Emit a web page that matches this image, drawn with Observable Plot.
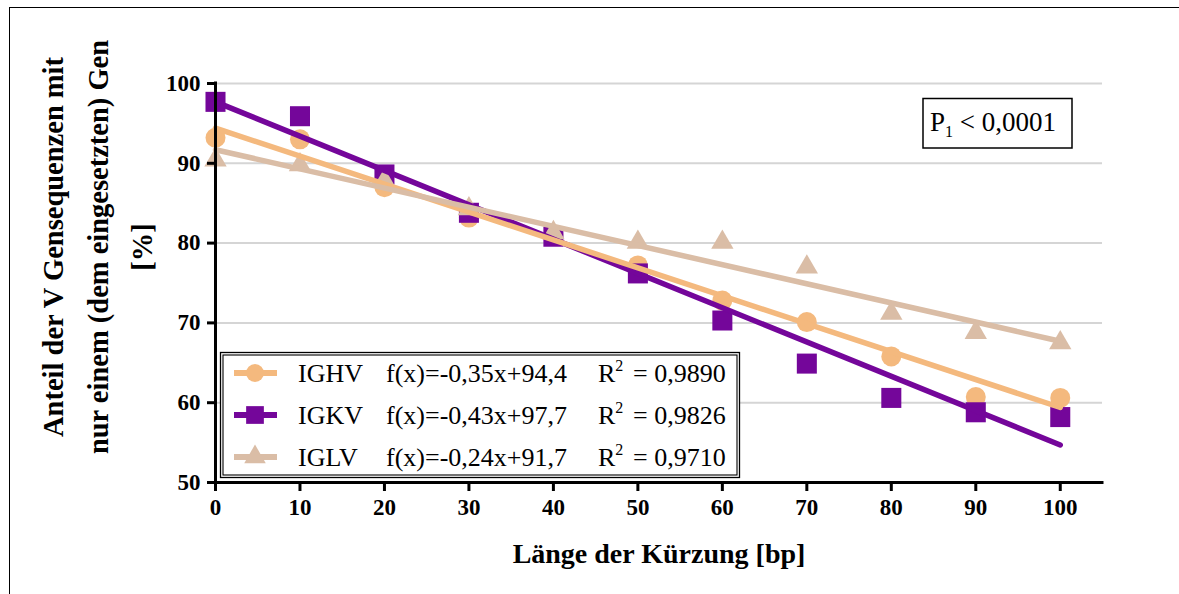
<!DOCTYPE html>
<html>
<head>
<meta charset="utf-8">
<script src="https://cdn.jsdelivr.net/npm/d3@7"></script>
<script src="https://cdn.jsdelivr.net/npm/@observablehq/plot@0.6"></script>
<style>
  body { margin: 0; background: #fff; }
  #frame { position: relative; width: 1179px; height: 594px; overflow: hidden; }
  #frame::before {
    content: ""; position: absolute; left: 9px; top: 7px; right: -10px; bottom: -10px;
    border-top: 1.5px solid #000; border-left: 1.5px solid #000; pointer-events: none;
  }
  #frame svg { position: absolute; left: 0; top: 0; }
</style>
</head>
<body>
<div id="frame"></div>
<script>
// Truncation length (bp) and share of V sequences matched to the inserted gene (%)
const lengths = [0, 10, 20, 30, 40, 50, 60, 70, 80, 90, 100];
const series = ["IGHV", "IGKV", "IGLV"];
const ighv = [93.2, 93.0, 87.0, 83.2, 81.0, 77.2, 72.8, 70.1, 65.8, 60.7, 60.6];
const igkv = [97.7, 95.9, 88.6, 83.8, 80.8, 76.2, 70.3, 64.9, 60.6, 58.8, 58.2];
const iglv = [90.4, 89.8, 87.8, 84.3, 81.3, 80.1, 80.1, 77.0, 71.2, 68.8, 67.5];

// Linear fits f(x) = slope * x + intercept and their coefficients of determination
const slopes = [-0.35, -0.43, -0.24];
const intercepts = [94.4, 97.7, 91.7];
const rSquared = [0.9890, 0.9826, 0.9710];
const pValue = "0,0001";

const colors = ["#f4b97e", "#74069a", "#dabda6"];
const yTicks = [50, 60, 70, 80, 90, 100];
const xTicks = [0, 10, 20, 30, 40, 50, 60, 70, 80, 90, 100];

const yTitle = "Anteil der V Gensequenzen mit\nnur einem (dem eingesetzten) Gen\n[%]";
const xTitle = "Länge der Kürzung [bp]";

const serif = "'Liberation Serif', 'Times New Roman', Times, serif";
const comma = (v, digits) => v.toFixed(digits).replace(".", ",");

const seriesValues = [ighv, igkv, iglv];
const points = (k) => lengths.map((x, i) => ({x, y: seriesValues[k][i]}));
const fitRange = d3.extent(lengths);
const fitLine = (k) => fitRange.map((x) => ({x, y: intercepts[k] + slopes[k] * x}));

const plot = Plot.plot({
  width: 1179,
  height: 594,
  marginLeft: 215,
  marginRight: 77,
  marginTop: 83,
  marginBottom: 112,
  style: {fontFamily: serif, color: "#000", background: "transparent", overflow: "visible"},
  x: {domain: [0, 105]},
  y: {domain: [50, 100]},
  marks: [
    Plot.gridY(yTicks.filter((t) => t > 50), {stroke: "#d5d5d5", strokeOpacity: 1, strokeWidth: 2}),
    Plot.dot(points(0), {x: "x", y: "y", symbol: "circle", r: 10, fill: colors[0]}),
    Plot.dot(points(1), {x: "x", y: "y", symbol: "square", r: 11.3, fill: colors[1]}),
    Plot.dot(points(2), {x: "x", y: "y", symbol: "triangle", r: 8.3, fill: colors[2]}),
    Plot.line(fitLine(1), {x: "x", y: "y", stroke: colors[1], strokeWidth: 5.5}),
    Plot.line(fitLine(0), {x: "x", y: "y", stroke: colors[0], strokeWidth: 5.5}),
    Plot.line(fitLine(2), {x: "x", y: "y", stroke: colors[2], strokeWidth: 5.5}),
    Plot.ruleX([0], {stroke: "#000", strokeWidth: 3, strokeLinecap: "square"}),
    Plot.ruleY([50], {stroke: "#000", strokeWidth: 3, strokeLinecap: "square"}),
    Plot.axisY(yTicks, {anchor: "left", tickSize: 8, tickPadding: 7, strokeWidth: 3,
      fontSize: 23, fontWeight: "bold", label: null}),
    Plot.axisX(xTicks, {anchor: "bottom", tickSize: 9, tickPadding: 7, strokeWidth: 3,
      fontSize: 23, fontWeight: "bold", label: null}),
    Plot.text([yTitle], {text: (d) => d, frameAnchor: "left", rotate: -90, dx: -122, dy: -36,
      fontSize: 28.5, fontWeight: "bold", lineHeight: 1.55, textAnchor: "middle", lineAnchor: "middle"}),
    Plot.text([xTitle], {text: (d) => d, frameAnchor: "bottom", dy: 72,
      fontSize: 28, fontWeight: "bold", lineAnchor: "middle"})
  ]
});

document.getElementById("frame").appendChild(plot);

// Legend box with regression equations
const svg = d3.select(plot);
const legend = svg.append("g").attr("font-family", serif).attr("font-size", 26)
  .attr("fill", "#000").attr("text-anchor", "start");
legend.append("rect").attr("x", 220.5).attr("y", 352.5).attr("width", 519).attr("height", 125)
  .attr("fill", "#fff").attr("stroke", "#000").attr("stroke-width", 1.3);
legend.append("rect").attr("x", 223).attr("y", 355).attr("width", 514).attr("height", 120)
  .attr("fill", "none").attr("stroke", "#000").attr("stroke-width", 1.1);

const legendSymbols = [
  d3.symbol(d3.symbolCircle, Math.PI * 9 * 9),
  d3.symbol(d3.symbolSquare, Math.PI * 10 * 10),
  d3.symbol(d3.symbolTriangle, Math.PI * 8 * 8)
];

series.forEach((name, i) => {
  const cy = 373 + 42 * i;
  const base = cy + 9;
  const row = legend.append("g");
  row.append("line").attr("x1", 234).attr("x2", 277).attr("y1", cy).attr("y2", cy)
    .attr("stroke", colors[i]).attr("stroke-width", 6);
  row.append("path").attr("d", legendSymbols[i]()).attr("transform", `translate(255,${cy})`)
    .attr("fill", colors[i]);
  row.append("text").attr("x", 298).attr("y", base).text(name);
  row.append("text").attr("x", 386).attr("y", base)
    .text(`f(x)=${comma(slopes[i], 2)}x+${comma(intercepts[i], 1)}`);
  const r2 = row.append("text").attr("x", 598).attr("y", base);
  r2.append("tspan").text("R");
  r2.append("tspan").attr("font-size", 16).attr("dy", -11).text("2");
  row.append("text").attr("x", 633).attr("y", base).text(`= ${comma(rSquared[i], 4)}`);
});

// Significance annotation
const note = svg.append("g").attr("font-family", serif).attr("font-size", 27)
  .attr("fill", "#000").attr("text-anchor", "start");
note.append("rect").attr("x", 923).attr("y", 98.5).attr("width", 149).attr("height", 49.5)
  .attr("fill", "#fff").attr("stroke", "#000").attr("stroke-width", 1.5);
const pText = note.append("text").attr("x", 930).attr("y", 131);
pText.append("tspan").text("P");
pText.append("tspan").attr("font-size", 16).attr("dy", 6).text("1");
pText.append("tspan").attr("dy", -6).text(` < ${pValue}`);
</script>
</body>
</html>
